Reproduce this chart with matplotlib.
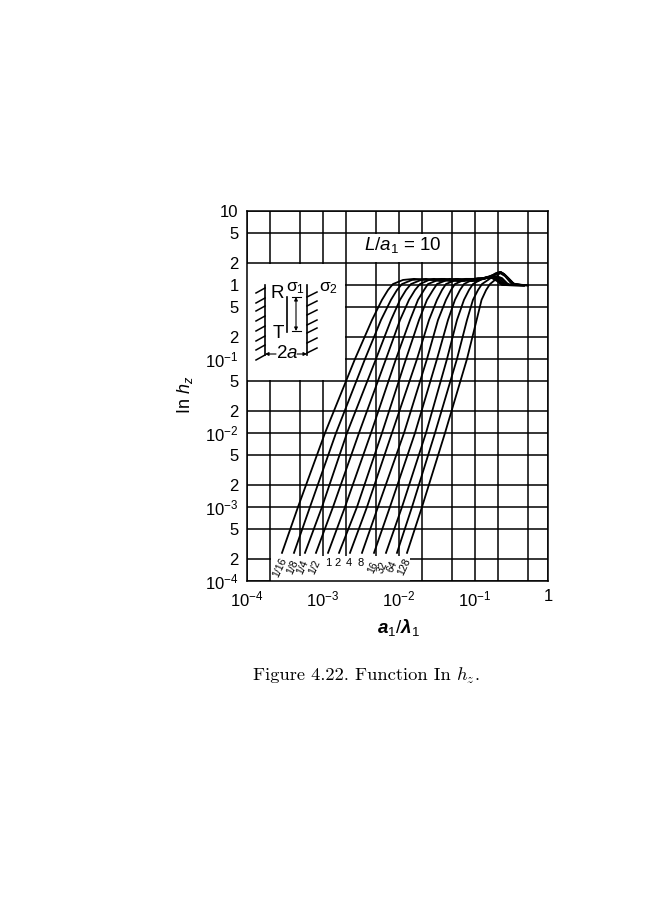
import numpy as np
import matplotlib
matplotlib.use("Agg")
import matplotlib.pyplot as plt
from matplotlib.patches import Rectangle
from matplotlib.ticker import NullLocator

plt.rcParams['font.family'] = ['Liberation Sans', 'DejaVu Sans']
plt.rcParams['mathtext.fontset'] = 'custom'
plt.rcParams['mathtext.rm'] = 'Liberation Sans'
plt.rcParams['mathtext.it'] = 'Liberation Sans:italic'
plt.rcParams['mathtext.bf'] = 'Liberation Sans:bold'
plt.rcParams['mathtext.bfit'] = 'Liberation Sans:italic:bold'
plt.rcParams['mathtext.default'] = 'regular'

# values
curve_labels = ['1/16', '1/8', '1/4', '1/2', '1', '2', '4', '8', '16', '32', '64', '128']

# every curve rises through the same ln hz levels
rise_y = [2.4e-4, 1e-3, 1e-2, 1e-1, 0.336, 0.63, 0.855, 1.03, 1.17]

rise_x = [
    [2.886e-4, 4.69e-4, 1.062e-3, 2.635e-3, 4.41e-3, 5.97e-3, 7.16e-3, 8.33e-3, 1.129e-2],
    [4.15e-4, 6.74e-4, 1.483e-3, 3.57e-3, 5.79e-3, 7.84e-3, 9.40e-3, 1.095e-2, 1.483e-2],
    [5.79e-4, 9.70e-4, 2.069e-3, 4.98e-3, 7.84e-3, 1.031e-2, 1.236e-2, 1.439e-2, 1.947e-2],
    [8.08e-4, 1.354e-3, 2.975e-3, 6.74e-3, 1.031e-2, 1.354e-2, 1.624e-2, 1.889e-2, 2.48e-2],
    [1.164e-3, 1.947e-3, 4.28e-3, 9.12e-3, 1.396e-2, 1.778e-2, 2.132e-2, 2.406e-2, 3.258e-2],
    [1.624e-3, 2.8e-3, 5.97e-3, 1.236e-2, 1.833e-2, 2.335e-2, 2.8e-2, 3.162e-2, 4.28e-2],
    [2.265e-3, 3.79e-3, 8.08e-3, 1.726e-2, 2.48e-2, 3.162e-2, 3.68e-2, 4.15e-2, 5.62e-2],
    [3.258e-3, 5.29e-3, 1.164e-2, 2.335e-2, 3.258e-2, 4.15e-2, 4.83e-2, 5.45e-2, 7.16e-2],
    [4.69e-3, 7.60e-3, 1.624e-2, 3.162e-2, 4.41e-2, 5.45e-2, 6.34e-2, 7.16e-2, 9.12e-2],
    [6.74e-3, 1.095e-2, 2.265e-2, 4.28e-2, 5.79e-2, 7.16e-2, 8.33e-2, 9.40e-2, 1.164e-1],
    [9.40e-3, 1.483e-2, 2.975e-2, 5.79e-2, 7.84e-2, 9.40e-2, 1.095e-1, 1.236e-1, 1.483e-1],
    [1.274e-2, 2.007e-2, 4.03e-2, 7.84e-2, 1.05e-1, 1.22e-1, 1.40e-1, 1.576e-1, 1.833e-1],
]

# plateau and hump after the knee
tail_x = [
    [1.576e-2, 2.406e-2, 3.91e-2, 6.34e-2, 1.031e-1, 1.40e-1, 1.674e-1, 1.947e-1, 2.265e-1, 4.98e-1],
    [2.265e-2, 3.46e-2, 5.62e-2, 9.12e-2, 1.396e-1, 1.674e-1, 1.947e-1, 2.265e-1, 4.98e-1],
    [2.886e-2, 4.69e-2, 7.60e-2, 1.164e-1, 1.483e-1, 1.778e-1, 2.069e-1, 2.406e-1, 4.41e-1],
    [3.68e-2, 5.97e-2, 9.12e-2, 1.314e-1, 1.576e-1, 1.889e-1, 2.198e-1, 2.48e-1, 4.69e-1],
    [4.69e-2, 7.16e-2, 1.095e-1, 1.40e-1, 1.674e-1, 2.007e-1, 2.335e-1, 2.635e-1, 4.69e-1],
    [5.97e-2, 9.12e-2, 1.314e-1, 1.576e-1, 1.778e-1, 2.132e-1, 2.48e-1, 2.716e-1, 4.41e-1],
    [7.60e-2, 1.095e-1, 1.40e-1, 1.674e-1, 1.889e-1, 2.265e-1, 2.635e-1, 2.886e-1, 4.98e-1],
    [9.70e-2, 1.314e-1, 1.624e-1, 1.889e-1, 2.132e-1, 2.48e-1, 2.975e-1, 3.68e-1, 4.98e-1],
    [1.164e-1, 1.439e-1, 1.726e-1, 2.007e-1, 2.265e-1, 2.635e-1, 3.066e-1, 3.91e-1],
    [1.396e-1, 1.624e-1, 1.889e-1, 2.132e-1, 2.406e-1, 2.8e-1, 3.258e-1, 4.15e-1],
    [1.674e-1, 1.889e-1, 2.132e-1, 2.406e-1, 2.8e-1, 3.258e-1, 4.41e-1],
    [2.007e-1, 2.198e-1, 2.48e-1, 2.886e-1, 3.258e-1, 4.15e-1, 4.98e-1],
]
tail_y = [
    [1.21, 1.17, 1.21, 1.13, 1.21, 1.24, 1.24, 1.13, 1.0, 1.0],
    [1.21, 1.13, 1.21, 1.13, 1.24, 1.26, 1.17, 1.03, 0.98],
    [1.21, 1.13, 1.21, 1.21, 1.26, 1.26, 1.13, 1.0, 0.97],
    [1.21, 1.13, 1.21, 1.21, 1.28, 1.26, 1.10, 1.0, 1.0],
    [1.21, 1.13, 1.24, 1.24, 1.28, 1.26, 1.10, 1.0, 1.0],
    [1.21, 1.13, 1.24, 1.28, 1.30, 1.26, 1.10, 1.0, 1.0],
    [1.21, 1.13, 1.28, 1.30, 1.32, 1.24, 1.06, 1.0, 1.0],
    [1.21, 1.21, 1.32, 1.41, 1.45, 1.32, 1.06, 1.0, 1.0],
    [1.21, 1.28, 1.365, 1.45, 1.45, 1.28, 1.06, 1.0],
    [1.24, 1.32, 1.45, 1.50, 1.41, 1.21, 1.03, 1.0],
    [1.28, 1.41, 1.50, 1.41, 1.21, 1.03, 1.0],
    [1.365, 1.50, 1.365, 1.17, 1.03, 1.0, 1.0],
]

# the last line is labelled 1 but is drawn a little short of the decade spacing
x_end = 0.913
x_ticks = [1e-4, 1e-3, 1e-2, 1e-1, x_end]
x_tick_labels = ['$10^{-4}$', '$10^{-3}$', '$10^{-2}$', '$10^{-1}$', '1']
x_minor = [2e-4, 5e-4, 2e-3, 5e-3, 2e-2, 5e-2, 2e-1, 5e-1]
y_values = [1e-4, 2e-4, 5e-4, 1e-3, 2e-3, 5e-3, 1e-2, 2e-2, 5e-2, 1e-1, 2e-1, 5e-1, 1, 2, 5, 10]
y_labels = ['$10^{-4}$', '2', '5', '$10^{-3}$', '2', '5', '$10^{-2}$', '2', '5',
            '$10^{-1}$', '2', '5', '1', '2', '5', '10']

W, H = 650.0, 900.0
fig = plt.figure(figsize=(W / 100, H / 100), dpi=100)
ax = fig.add_axes([247 / W, 1 - 581 / H, (548 - 247) / W, (581 - 211) / H])
ax.set_xscale('log')
ax.set_yscale('log')
ax.set_xlim(1e-4, x_end)
ax.set_ylim(1e-4, 10)

ax.set_xticks(x_ticks)
ax.set_xticklabels(x_tick_labels, fontsize=12)
ax.set_xticks(x_minor, minor=True)
ax.set_xticklabels([], minor=True)
ax.set_yticks(y_values)
ax.set_yticklabels(y_labels, fontsize=12)
ax.yaxis.set_minor_locator(NullLocator())
ax.tick_params(axis='both', which='both', length=0)
ax.tick_params(axis='x', pad=6)
ax.tick_params(axis='y', pad=6)
ax.grid(True, which='both', color='black', lw=1.1, zorder=1)
ax.set_axisbelow(True)
for s in ax.spines.values():
    s.set_linewidth(1.1)

# white patches over the grid: sketch, title and curve labels
ax.add_patch(Rectangle((1e-4, 5.2e-2), 1.96e-3 - 1e-4, 1.93 - 5.2e-2, fc='white', ec='none', zorder=1.5))
ax.add_patch(Rectangle((2.08e-3, 2.07), 4.85e-2 - 2.08e-3, 4.85 - 2.07, fc='white', ec='none', zorder=1.5))
ax.add_patch(Rectangle((2.05e-4, 1e-4), 1.4e-2 - 2.05e-4, 2.2e-4 - 1e-4, fc='white', ec='none', zorder=1.5))

for i in range(len(curve_labels)):
    ax.plot(rise_x[i] + tail_x[i], rise_y + tail_y[i], color='black', lw=1.3,
            solid_joinstyle='round', zorder=3)

# overlay in pixel coordinates for sketch and free text
ov = fig.add_axes([0, 0, 1, 1], facecolor='none')
ov.set_xlim(0, W)
ov.set_ylim(H, 0)
ov.axis('off')

ov.text(185, 395, r'In $\mathit{h}_{\mathit{z}}$', rotation=90, ha='center', va='center', fontsize=13)
ov.text(398, 627, r'$\mathbfit{a}_1/\mathbfit{\lambda}_1$', ha='center', va='center', fontsize=13.5)
ov.text(403, 245, r'$\mathit{L}/\mathit{a}_1$ = 10', ha='center', va='center', fontsize=13.5)
ov.text(253, 675, 'Figure 4.22. Function In', ha='left', va='center', family='cmr10', fontsize=13.3)
ov.text(456, 675, r'$\mathit{h}_{\mathit{z}}$', ha='left', va='center', fontsize=13.3, math_fontfamily='cm')
ov.text(475, 675, '.', ha='left', va='center', family='cmr10', fontsize=13.3)

# curve labels under the lines
label_px = [280, 293, 303, 315, 328, 338, 349, 361, 373, 382, 392, 404]
for lab, px in zip(curve_labels, label_px):
    if len(lab) > 1:
        ov.text(px, 567, lab, rotation=65, ha='center', va='center', fontsize=7.5)
    else:
        ov.text(px, 563, lab, ha='center', va='center', fontsize=8)

# sketch
ov.plot([265, 265], [285, 355], color='black', lw=1.2)
ov.plot([307, 307], [285, 355], color='black', lw=1.2)
for y0 in [288, 298, 306, 316, 326, 336, 345, 355]:
    ov.plot([265, 256], [y0, y0 + 5], color='black', lw=1.1)
for y0 in [297, 306, 315, 325, 333, 343, 353]:
    ov.plot([307, 317], [y0, y0 - 5], color='black', lw=1.1)
ov.plot([287, 287], [297, 332], color='black', lw=1.2)
ov.plot([292, 301], [297, 297], color='black', lw=0.8)
ov.plot([292, 301], [331, 331], color='black', lw=0.8)
ov.annotate('', xy=(296, 297), xytext=(296, 331),
            arrowprops=dict(arrowstyle='<|-|>', color='black', lw=0.8, mutation_scale=5, shrinkA=0, shrinkB=0))
ov.annotate('', xy=(265, 354), xytext=(276, 354),
            arrowprops=dict(arrowstyle='-|>', color='black', lw=0.8, mutation_scale=5, shrinkA=0, shrinkB=0))
ov.annotate('', xy=(307, 354), xytext=(297, 354),
            arrowprops=dict(arrowstyle='-|>', color='black', lw=0.8, mutation_scale=5, shrinkA=0, shrinkB=0))
ov.text(277, 293, 'R', ha='center', va='center', fontsize=13.5)
ov.text(278, 333, 'T', ha='center', va='center', fontsize=13.5)
ov.text(287, 354, r'2$\mathit{a}$', ha='center', va='center', fontsize=13.5)
ov.text(296, 288, r'$\sigma_1$', ha='center', va='center', fontsize=12.5, math_fontfamily='cm')
ov.text(329, 288, r'$\sigma_2$', ha='center', va='center', fontsize=12.5, math_fontfamily='cm')

fig.savefig('out.png', dpi=100, facecolor='white')
